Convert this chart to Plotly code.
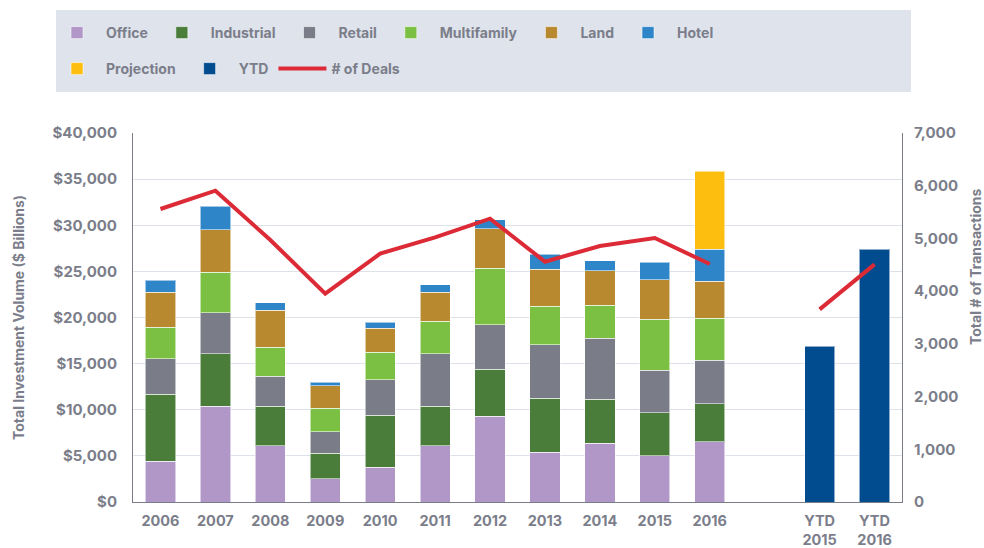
import plotly.graph_objects as go

categories = ["2006", "2007", "2008", "2009", "2010", "2011", "2012", "2013", "2014", "2015", "2016",
              "gap", "YTD 2015", "YTD 2016"]
tick_labels = ["2006", "2007", "2008", "2009", "2010", "2011", "2012", "2013", "2014", "2015", "2016",
               "", "YTD<br>2015", "YTD<br>2016"]

office      = [4444, 10405, 6106, 2529, 3794, 6106, 9322, 5420, 6395, 5022, 6540, None, None, None]
industrial  = [7230, 5673, 4299, 2746, 5636, 4299, 5094, 5816, 4733, 4661, 4118, None, None, None]
retail      = [3860, 4444, 3216, 2348, 3830, 5673, 4805, 5817, 6612, 4588, 4733, None, None, None]
multifamily = [3436, 4408, 3143, 2530, 2962, 3504, 6142, 4155, 3577, 5528, 4553, None, None, None]
land        = [3760, 4588, 4011, 2456, 2602, 3144, 4264, 4011, 3757, 4300, 3974, None, None, None]
hotel       = [1335, 2566, 831, 398, 686, 831, 975, 1626, 1084, 1915, 3505, None, None, None]
projection  = [None, None, None, None, None, None, None, None, None, None, 8454, None, None, None]
ytd         = [None, None, None, None, None, None, None, None, None, None, None, None, 16909, 27423]
deals       = [5558, 5906, 4970, 3952, 4711, 5021, 5375, 4559, 4856, 5008, 4515, None, 3655, 4508]

series = [
    ("Office", office, "#B097C8", "legend"),
    ("Industrial", industrial, "#4A7C3A", "legend"),
    ("Retail", retail, "#7A7D88", "legend"),
    ("Multifamily", multifamily, "#7CC043", "legend"),
    ("Land", land, "#B8892F", "legend"),
    ("Hotel", hotel, "#2E86C8", "legend"),
    ("Projection", projection, "#FDBE10", "legend2"),
    ("YTD", ytd, "#004C8F", "legend2"),
]

TXT = "#7B7E8A"
FONT = "Inter"

fig = go.Figure()
for name, vals, color, lg in series:
    fig.add_trace(go.Bar(
        x=categories, y=vals, name=name, legend=lg,
        marker=dict(color=color, line=dict(color="rgba(255,255,255,0.55)", width=1)),
    ))

fig.add_trace(go.Scatter(
    x=categories, y=deals, name="# of Deals", legend="legend2", yaxis="y2",
    mode="lines", line=dict(color="#DC2B37", width=4), connectgaps=False,
))

tickfont = dict(family=FONT, size=15, color=TXT, weight="bold")
xtickfont = dict(family=FONT, size=14.5, color=TXT, weight="bold")
legfont = dict(family=FONT, size=14, color=TXT, weight="bold")

fig.update_layout(
    width=984, height=548,
    margin=dict(l=133, r=82, t=133, b=46, autoexpand=False),
    barmode="stack", bargap=0.45,
    plot_bgcolor="white", paper_bgcolor="white",
    font=dict(family=FONT, color=TXT),
    xaxis=dict(
        type="category", categoryorder="array", categoryarray=categories,
        tickvals=categories, ticktext=tick_labels, tickfont=xtickfont,
        showgrid=False, showline=True, linecolor="#7A7D88", linewidth=1,
        ticks="", ticklabelstandoff=6, automargin=False,
    ),
    yaxis=dict(
        range=[0, 40000], dtick=5000, tickprefix="$", tickformat=",",
        tickfont=tickfont, showgrid=True, gridcolor="#DDE1EA", gridwidth=1,
        showline=True, linecolor="#7A7D88", linewidth=1, zeroline=False,
        ticks="", ticklabelstandoff=12, automargin=False,
    ),
    yaxis2=dict(
        overlaying="y", side="right", range=[0, 7000], dtick=1000, tickformat=",",
        tickfont=tickfont, showgrid=False, showline=True, linecolor="#7A7D88",
        linewidth=1, zeroline=False, ticks="", ticklabelstandoff=8, automargin=False,
    ),
    legend=dict(
        orientation="h", xref="container", yref="container",
        x=48 / 984, y=1 - 17 / 548, xanchor="left", yanchor="top",
        bgcolor="rgba(0,0,0,0)", font=legfont, itemwidth=48, traceorder="normal",
    ),
    legend2=dict(
        orientation="h", xref="container", yref="container",
        x=48 / 984, y=1 - 53 / 548, xanchor="left", yanchor="top",
        bgcolor="rgba(0,0,0,0)", font=legfont, itemwidth=48, traceorder="normal",
    ),
    shapes=[dict(
        type="rect", xref="paper", yref="paper",
        x0=(56 - 133) / 769, x1=(911 - 133) / 769,
        y0=(502 - 92) / 369, y1=(502 - 10) / 369,
        fillcolor="#DFE3EC", line=dict(width=0), layer="below",
    )],
    annotations=[
        dict(text="Total Investment Volume ($ Billions)", textangle=-90,
             xref="paper", yref="paper", x=(18 - 133) / 769, y=(502 - 317) / 369,
             showarrow=False, font=dict(family=FONT, size=14, color=TXT, weight="bold"),
             xanchor="center", yanchor="middle"),
        dict(text="Total # of Transactions", textangle=-90,
             xref="paper", yref="paper", x=(975 - 133) / 769, y=(502 - 267) / 369,
             showarrow=False, font=dict(family=FONT, size=14, color=TXT, weight="bold"),
             xanchor="center", yanchor="middle"),
    ],
)

fig.write_html("out.html", config={"displayModeBar": False},
               post_script="document.body.style.margin='0';")
